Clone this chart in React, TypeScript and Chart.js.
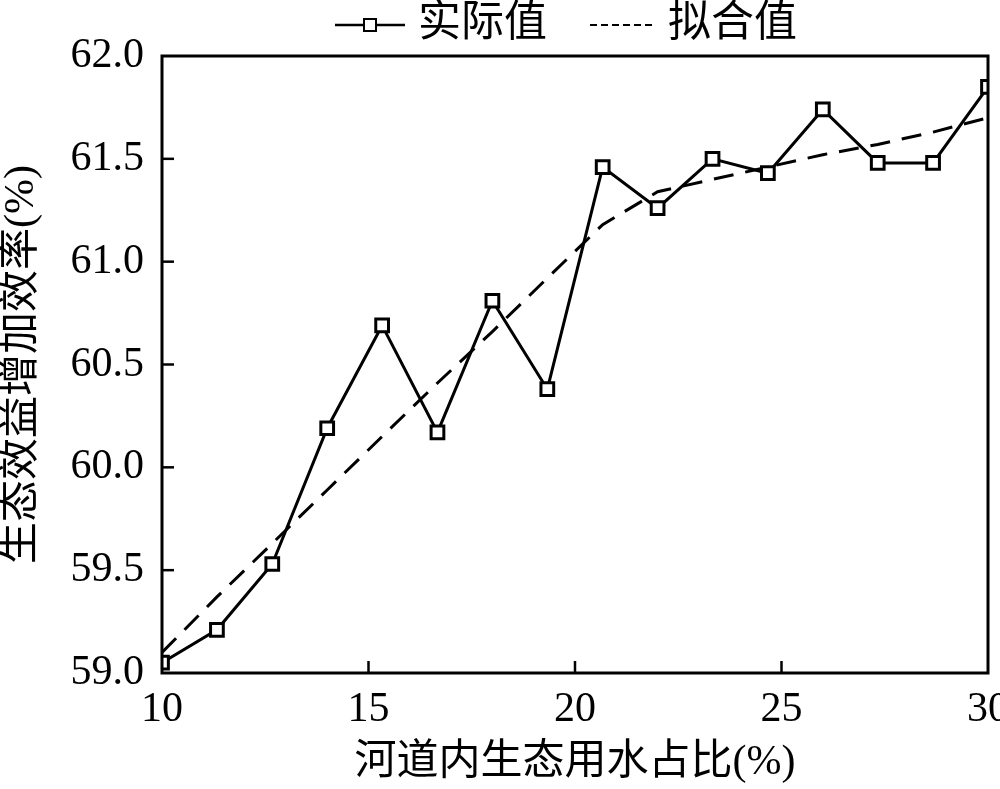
import { useEffect, useRef } from 'react';
import { Chart, registerables } from 'chart.js';

Chart.register(...registerables);

const xValues = [10, 11.33, 12.67, 14, 15.33, 16.67, 18, 19.33, 20.67, 22, 23.33, 24.67, 26, 27.33, 28.67, 30];
const actualValues = [59.05, 59.21, 59.53, 60.19, 60.69, 60.17, 60.81, 60.38, 61.46, 61.26, 61.5, 61.43, 61.74, 61.48, 61.48, 61.85];
const fittedValues = [59.1, 59.37, 59.63, 59.89, 60.15, 60.41, 60.66, 60.92, 61.18, 61.34, 61.4, 61.46, 61.52, 61.57, 61.63, 61.7];
const seriesNames = ['实际值', '拟合值'];
const xTitle = '河道内生态用水占比(%)';
const yTitle = '生态效益增加效率(%)';

const SERIF = '"Liberation Serif", "Times New Roman", "Noto Sans CJK SC", serif';

const framePlugin = {
  id: 'frameAndTicks',
  afterDraw(chart: any) {
    const { ctx, chartArea } = chart;
    const { left, right, top, bottom } = chartArea;
    ctx.save();
    ctx.strokeStyle = '#000';
    ctx.lineWidth = 3;
    ctx.strokeRect(left, top, right - left, bottom - top);
    ctx.lineWidth = 2.5;
    const ys = chart.scales.y;
    ys.ticks.forEach((t: any) => {
      if (t.value <= ys.min || t.value >= ys.max) return;
      const py = ys.getPixelForValue(t.value);
      ctx.beginPath();
      ctx.moveTo(left, py);
      ctx.lineTo(left + 12, py);
      ctx.stroke();
    });
    const xs = chart.scales.x;
    xs.ticks.forEach((t: any) => {
      if (t.value <= xs.min || t.value >= xs.max) return;
      const px = xs.getPixelForValue(t.value);
      ctx.beginPath();
      ctx.moveTo(px, bottom);
      ctx.lineTo(px, bottom - 12);
      ctx.stroke();
    });
    ctx.restore();
  },
};

const legendPlugin = {
  id: 'customLegend',
  afterDraw(chart: any) {
    const { ctx } = chart;
    const cy = 25;
    ctx.save();
    ctx.strokeStyle = '#000';
    ctx.fillStyle = '#000';
    ctx.lineWidth = 2.5;
    ctx.beginPath();
    ctx.moveTo(335, cy);
    ctx.lineTo(405, cy);
    ctx.stroke();
    ctx.fillStyle = '#fff';
    ctx.fillRect(364, cy - 6, 12, 12);
    ctx.lineWidth = 2;
    ctx.strokeRect(364, cy - 6, 12, 12);
    ctx.lineWidth = 2;
    ctx.setLineDash([7, 4]);
    ctx.beginPath();
    ctx.moveTo(590, cy);
    ctx.lineTo(656, cy);
    ctx.stroke();
    ctx.setLineDash([]);
    ctx.fillStyle = '#000';
    ctx.font = '43px ' + SERIF;
    ctx.textBaseline = 'middle';
    ctx.textAlign = 'left';
    ctx.fillText(seriesNames[0], 418, cy);
    ctx.fillText(seriesNames[1], 668, cy);
    ctx.restore();
  },
};

export default function App() {
  const canvasRef = useRef<HTMLCanvasElement | null>(null);

  useEffect(() => {
    document.body.style.margin = '0';
    const canvas = canvasRef.current;
    if (!canvas) return;
    const chart = new Chart(canvas, {
      type: 'line',
      data: {
        datasets: [
          {
            label: seriesNames[0],
            data: xValues.map((x, i) => ({ x, y: actualValues[i] })),
            borderColor: '#000',
            borderWidth: 3,
            pointStyle: 'rect',
            pointRadius: 9,
            pointBorderWidth: 3,
            pointBackgroundColor: '#fff',
            pointBorderColor: '#000',
            tension: 0,
            fill: false,
            order: 1,
          },
          {
            label: seriesNames[1],
            data: xValues.map((x, i) => ({ x, y: fittedValues[i] })),
            borderColor: '#000',
            borderWidth: 3,
            borderDash: [20, 12],
            pointRadius: 0,
            tension: 0,
            fill: false,
            order: 2,
          },
        ],
      },
      options: {
        responsive: false,
        animation: false,
        devicePixelRatio: 1,
        layout: { padding: { left: 0, right: 12, top: 56, bottom: 0 } },
        plugins: {
          legend: { display: false },
          tooltip: { enabled: false },
        },
        scales: {
          x: {
            type: 'linear',
            min: 10,
            max: 30,
            ticks: {
              stepSize: 5,
              color: '#000',
              padding: 12,
              font: { family: SERIF, size: 42 },
              maxRotation: 0,
            },
            grid: { display: false, drawTicks: false },
            border: { display: false },
            title: {
              display: true,
              text: xTitle,
              color: '#000',
              font: { family: SERIF, size: 42, lineHeight: 1.2 },
              padding: { top: 0, bottom: 1 },
            },
            afterFit(scale: any) {
              scale.height = 116;
              scale.paddingLeft = 0;
              scale.paddingRight = 0;
            },
          },
          y: {
            min: 59,
            max: 62,
            ticks: {
              stepSize: 0.5,
              color: '#000',
              padding: 18,
              font: { family: SERIF, size: 42 },
              callback: (v: any) => Number(v).toFixed(1),
            },
            grid: { display: false, drawTicks: false },
            border: { display: false },
            title: {
              display: true,
              text: yTitle,
              color: '#000',
              font: { family: SERIF, size: 42, lineHeight: 1.0 },
              padding: { top: 1, bottom: 0 },
            },
            afterFit(scale: any) {
              scale.width = 162;
              scale.paddingTop = 0;
              scale.paddingBottom = 0;
            },
          },
        },
      },
      plugins: [framePlugin, legendPlugin],
    });
    return () => chart.destroy();
  }, []);

  return (
    <div style={{ position: 'absolute', left: 0, top: 0, width: 1000, height: 789, background: '#fff' }}>
      <canvas ref={canvasRef} width={1000} height={789} />
    </div>
  );
}
